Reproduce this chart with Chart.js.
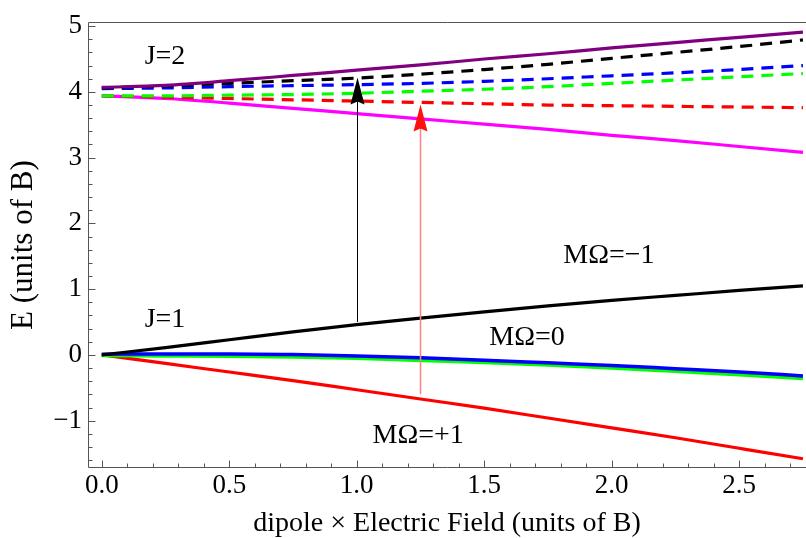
<!DOCTYPE html>
<html>
<head>
<meta charset="utf-8">
<title>Stark levels J=1, J=2</title>
<script src="https://cdn.jsdelivr.net/npm/chart.js@4.4.0/dist/chart.umd.min.js"></script>
<style>
  html, body { margin: 0; padding: 0; background: #fff; }
</style>
</head>
<body>
<canvas id="starkChart" width="806" height="538"></canvas>
<script>
// Campo (dipolo x E) en unidades de B
const fieldValues = [0, 0.25, 0.5, 0.75, 1.0, 1.25, 1.5, 1.75, 2.0, 2.25, 2.5, 2.75];

// Niveles J=1
const j1MinusOne = [0, 0.11, 0.23, 0.35, 0.46, 0.56, 0.655, 0.745, 0.83, 0.905, 0.98, 1.05];
const j1ZeroBlue = [0.01, 0.015, 0.015, 0.005, -0.015, -0.045, -0.08, -0.12, -0.16, -0.21, -0.26, -0.32];
const j1ZeroGreen = [-0.01, -0.015, -0.02, -0.03, -0.05, -0.085, -0.115, -0.155, -0.20, -0.25, -0.30, -0.36];
const j1PlusOne = [0, -0.13, -0.26, -0.39, -0.53, -0.67, -0.81, -0.96, -1.11, -1.26, -1.42, -1.58];

// Niveles J=2
const j2Purple = [4.07, 4.10, 4.17, 4.25, 4.33, 4.41, 4.50, 4.58, 4.67, 4.75, 4.83, 4.91];
const j2BlackDash = [4.06, 4.09, 4.13, 4.17, 4.21, 4.27, 4.34, 4.42, 4.51, 4.60, 4.69, 4.79];
const j2BlueDash = [4.05, 4.06, 4.08, 4.095, 4.11, 4.13, 4.16, 4.20, 4.245, 4.29, 4.34, 4.40];
const j2GreenDash = [3.94, 3.94, 3.95, 3.96, 3.98, 4.01, 4.04, 4.08, 4.13, 4.18, 4.23, 4.28];
const j2RedDash = [3.94, 3.92, 3.90, 3.88, 3.86, 3.84, 3.82, 3.80, 3.79, 3.78, 3.77, 3.76];
const j2Magenta = [3.94, 3.90, 3.83, 3.75, 3.67, 3.59, 3.51, 3.43, 3.34, 3.26, 3.17, 3.08];

// Ticks
const xTicks = [0, 0.5, 1.0, 1.5, 2.0, 2.5];
const yTicks = [-1, 0, 1, 2, 3, 4, 5];

// Flechas de transición (x, desde, hasta)
const arrowX = [1.0, 1.25];
const arrowFrom = [0.50, -0.60];
const arrowTo = [4.22, 3.81];

// Etiquetas de texto
const noteTexts = ['J=2', 'J=1', 'M\u03A9=\u22121', 'M\u03A9=0', 'M\u03A9=+1'];
const noteX = [0.248, 0.248, 1.989, 1.668, 1.241];
const noteY = [4.54, 0.53, 1.51, 0.26, -1.23];

const SERIF = '"Liberation Serif", "Times New Roman", serif';

function toPoints(values) {
    return fieldValues.map((x, i) => ({ x: x, y: values[i] }));
}

function series(values, color, dashed, width) {
    return {
        data: toPoints(values),
        borderColor: color,
        backgroundColor: color,
        borderWidth: width || 3.2,
        borderDash: dashed ? [12, 8] : [],
        pointRadius: 0,
        fill: false,
        cubicInterpolationMode: 'monotone'
    };
}

// Marco, ticks interiores, flechas y etiquetas
const framePlugin = {
    id: 'framePlugin',
    afterDatasetsDraw(chart) {
        const ctx = chart.ctx;
        const xs = chart.scales.x;
        const ys = chart.scales.y;
        ctx.save();

        const shaftColors = ['#000000', '#ff8080'];
        const headColors = ['#000000', '#ff1010'];
        const shaftWidths = [1, 1.5];
        arrowX.forEach((xv, i) => {
            const px = Math.round(xs.getPixelForValue(xv)) + 0.5;
            const y0 = ys.getPixelForValue(arrowFrom[i]);
            const y1 = ys.getPixelForValue(arrowTo[i]);
            ctx.strokeStyle = shaftColors[i];
            ctx.lineWidth = shaftWidths[i];
            ctx.beginPath();
            ctx.moveTo(px, y0);
            ctx.lineTo(px, y1 + 20);
            ctx.stroke();
            ctx.fillStyle = headColors[i];
            ctx.beginPath();
            ctx.moveTo(px, y1);
            ctx.lineTo(px - 7, y1 + 27);
            ctx.lineTo(px, y1 + 24);
            ctx.lineTo(px + 7, y1 + 27);
            ctx.closePath();
            ctx.fill();
        });

        ctx.font = '28px ' + SERIF;
        ctx.fillStyle = '#000';
        ctx.textAlign = 'center';
        ctx.textBaseline = 'middle';
        noteTexts.forEach((t, i) => {
            ctx.fillText(t, xs.getPixelForValue(noteX[i]), ys.getPixelForValue(noteY[i]));
        });
        ctx.restore();
    },
    afterDraw(chart) {
        const ctx = chart.ctx;
        const a = chart.chartArea;
        const xs = chart.scales.x;
        const ys = chart.scales.y;
        const left = Math.round(a.left) + 0.5;
        const top = Math.round(a.top) + 0.5;
        const bottom = Math.round(a.bottom) - 0.5;
        ctx.save();
        ctx.strokeStyle = '#555';
        ctx.lineWidth = 1;
        ctx.beginPath();
        ctx.moveTo(a.right, top);
        ctx.lineTo(left, top);
        ctx.lineTo(left, bottom);
        ctx.lineTo(a.right, bottom);
        ctx.stroke();

        ctx.beginPath();
        // ticks del eje x (hacia dentro)
        for (let k = 0; k <= 27; k++) {
            const v = k / 10;
            const px = Math.round(xs.getPixelForValue(v)) + 0.5;
            const len = (k % 5 === 0) ? 7 : 4;
            ctx.moveTo(px, bottom);
            ctx.lineTo(px, bottom - len);
        }
        // ticks del eje y
        for (let k = -8; k <= 25; k++) {
            const v = k / 5;
            const py = Math.round(ys.getPixelForValue(v)) + 0.5;
            const len = (k % 5 === 0) ? 7 : 4;
            ctx.moveTo(left, py);
            ctx.lineTo(left + len, py);
        }
        ctx.stroke();
        ctx.restore();
    }
};

const ctx = document.getElementById('starkChart').getContext('2d');
new Chart(ctx, {
    type: 'line',
    data: {
        datasets: [
            series(j1MinusOne, '#000000', false),
            series(j1ZeroBlue, '#0000ff', false, 3.5),
            series(j1ZeroGreen, '#00ff00', false, 3.5),
            series(j1PlusOne, '#ff0000', false),
            series(j2Purple, '#800080', false),
            series(j2BlackDash, '#000000', true),
            series(j2BlueDash, '#0000ff', true),
            series(j2GreenDash, '#00ff00', true),
            series(j2RedDash, '#ff0000', true),
            series(j2Magenta, '#ff00ff', false)
        ]
    },
    options: {
        responsive: false,
        animation: false,
        layout: { padding: { top: 17, right: 0, left: 0, bottom: 0 } },
        plugins: {
            legend: { display: false },
            tooltip: { enabled: false }
        },
        scales: {
            x: {
                type: 'linear',
                min: -0.054,
                max: 2.762,
                grid: { display: false, drawTicks: false },
                border: { display: false },
                afterBuildTicks: function(scale) {
                    scale.ticks = xTicks.map(v => ({ value: v }));
                },
                afterFit: function(scale) {
                    scale.height = 70;
                },
                ticks: {
                    autoSkip: false,
                    maxRotation: 0,
                    padding: 2,
                    color: '#000',
                    font: { family: SERIF, size: 27, lineHeight: 1.2 },
                    callback: function(value) {
                        return value.toFixed(1);
                    }
                },
                title: {
                    display: true,
                    text: 'dipole \u00D7 Electric Field (units of B)',
                    color: '#000',
                    font: { family: SERIF, size: 28, lineHeight: 1 },
                    padding: { top: 0, bottom: 0 }
                }
            },
            y: {
                type: 'linear',
                min: -1.72,
                max: 5.06,
                grid: { display: false, drawTicks: false },
                border: { display: false },
                afterBuildTicks: function(scale) {
                    scale.ticks = yTicks.map(v => ({ value: v }));
                },
                afterFit: function(scale) {
                    scale.width = 88;
                },
                ticks: {
                    autoSkip: false,
                    padding: 6,
                    color: '#000',
                    font: { family: SERIF, size: 27 },
                    callback: function(value) {
                        return value < 0 ? '\u2212' + Math.abs(value) : String(value);
                    }
                },
                title: {
                    display: true,
                    text: 'E (units of B)',
                    color: '#000',
                    font: { family: SERIF, size: 31, lineHeight: 1 },
                    padding: { top: 8, bottom: 0 }
                }
            }
        }
    },
    plugins: [framePlugin]
});
</script>
</body>
</html>
